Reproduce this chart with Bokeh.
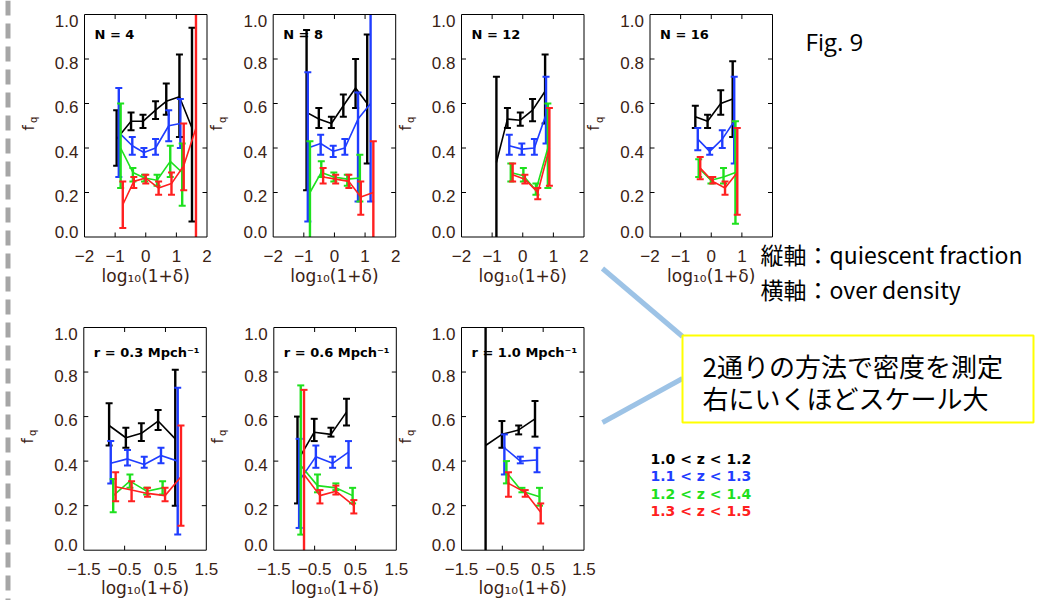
import numpy as np
from bokeh.plotting import figure
from bokeh.models import Range1d
from bokeh.embed import file_html
from bokeh.resources import INLINE
from bokeh.core.properties import value

# ------------------------------------------------------------------ texts / ticks
SERIES_LABELS = ["1.0 < z < 1.2", "1.1 < z < 1.3", "1.2 < z < 1.4", "1.3 < z < 1.5"]
TOP_TITLES = ["N = 4", "N = 8", "N = 12", "N = 16"]
BOTTOM_TITLES = ["r = 0.3 Mpch⁻¹", "r = 0.6 Mpch⁻¹", "r = 1.0 Mpch⁻¹"]
TOP_XTICKS = [-2, -1, 0, 1, 2]
TOP_XTICK_LABELS = ["−2", "−1", "0", "1", "2"]
BOTTOM_XTICKS = [-1.5, -0.5, 0.5, 1.5]
BOTTOM_XTICK_LABELS = ["−1.5", "−0.5", "0.5", "1.5"]
YTICKS = [0.0, 0.2, 0.4, 0.6, 0.8, 1.0]
YTICK_LABELS = ["0.0", "0.2", "0.4", "0.6", "0.8", "1.0"]
X_TITLE = "log₁₀(1+δ)"
Y_TITLE_MAIN = "f"
Y_TITLE_SUB = "q"
FIG_TITLE = "Fig. 9"
NOTE_LINES = ["縦軸：quiescent fraction", "横軸：over density"]
BOX_LINES = ["2通りの方法で密度を測定", "右にいくほどスケール大"]

# ------------------------------------------------------------------ data (x = log10(1+delta), f = f_q, lo/hi = error bar ends)
# N = 4
n4_k_x = [-0.95, -0.48, -0.09, 0.32, 0.67, 1.10, 1.51]
n4_k_f = [0.44, 0.52, 0.52, 0.57, 0.61, 0.63, 0.49]
n4_k_lo = [0.32, 0.48, 0.49, 0.53, 0.55, 0.45, 0.07]
n4_k_hi = [0.57, 0.56, 0.55, 0.61, 0.69, 0.82, 0.94]
n4_b_x = [-0.88, -0.44, -0.06, 0.32, 0.75, 1.13]
n4_b_f = [0.47, 0.41, 0.38, 0.40, 0.50, 0.51]
n4_b_lo = [0.27, 0.37, 0.36, 0.37, 0.43, 0.40]
n4_b_hi = [0.67, 0.45, 0.40, 0.44, 0.57, 0.62]
n4_g_x = [-0.82, -0.42, -0.04, 0.37, 0.80, 1.19]
n4_g_f = [0.40, 0.29, 0.265, 0.255, 0.34, 0.29]
n4_g_lo = [0.22, 0.25, 0.25, 0.23, 0.27, 0.14]
n4_g_hi = [0.60, 0.31, 0.28, 0.28, 0.41, 0.42]
n4_r_x = [-0.75, -0.39, 0.00, 0.42, 0.84, 1.24, 1.64]
n4_r_f = [0.145, 0.25, 0.265, 0.22, 0.24, 0.32, 0.49]
n4_r_lo = [0.04, 0.22, 0.24, 0.19, 0.19, 0.21, -0.10]
n4_r_hi = [0.25, 0.27, 0.28, 0.25, 0.29, 0.51, 1.10]
# N = 8
n8_k_x = [-0.91, -0.51, -0.10, 0.29, 0.69, 1.07]
n8_k_f = [0.56, 0.53, 0.51, 0.59, 0.67, 0.60]
n8_k_lo = [0.21, 0.49, 0.49, 0.54, 0.58, 0.33]
n8_k_hi = [0.93, 0.58, 0.54, 0.64, 0.80, 0.91]
n8_b_x = [-0.87, -0.45, -0.04, 0.34, 0.77, 1.18]
n8_b_f = [0.40, 0.42, 0.385, 0.40, 0.53, 0.60]
n8_b_lo = [0.07, 0.37, 0.36, 0.37, 0.16, 0.16]
n8_b_hi = [0.74, 0.46, 0.41, 0.44, 0.65, 1.10]
n8_g_x = [-0.80, -0.43, -0.02, 0.42, 0.83]
n8_g_f = [0.20, 0.29, 0.27, 0.26, 0.265]
n8_g_lo = [-0.10, 0.27, 0.25, 0.23, 0.16]
n8_g_hi = [0.43, 0.34, 0.29, 0.28, 0.37]
n8_r_x = [-0.37, 0.04, 0.47, 0.86, 1.27]
n8_r_f = [0.27, 0.26, 0.25, 0.18, 0.20]
n8_r_lo = [0.24, 0.24, 0.22, 0.10, -0.10]
n8_r_hi = [0.31, 0.28, 0.28, 0.25, 0.43]
# N = 12
n12_k_x = [-0.86, -0.50, -0.08, 0.32, 0.73]
n12_k_f = [0.335, 0.53, 0.525, 0.57, 0.655]
n12_k_lo = [-0.10, 0.49, 0.50, 0.52, 0.51]
n12_k_hi = [0.72, 0.58, 0.56, 0.62, 0.82]
n12_b_x = [-0.44, -0.03, 0.38, 0.76]
n12_b_f = [0.41, 0.395, 0.40, 0.55]
n12_b_lo = [0.37, 0.37, 0.37, 0.42]
n12_b_hi = [0.46, 0.42, 0.44, 0.72]
n12_g_x = [-0.39, 0.02, 0.43, 0.82]
n12_g_f = [0.29, 0.275, 0.21, 0.40]
n12_g_lo = [0.25, 0.25, 0.19, 0.22]
n12_g_hi = [0.33, 0.31, 0.24, 0.60]
n12_r_x = [-0.33, 0.07, 0.49, 0.87]
n12_r_f = [0.28, 0.26, 0.20, 0.40]
n12_r_lo = [0.25, 0.24, 0.17, 0.23]
n12_r_hi = [0.33, 0.28, 0.22, 0.58]
# N = 16
n16_k_x = [-0.52, -0.12, 0.31, 0.70]
n16_k_f = [0.54, 0.52, 0.60, 0.62]
n16_k_lo = [0.49, 0.49, 0.55, 0.45]
n16_k_hi = [0.59, 0.55, 0.66, 0.79]
n16_b_x = [-0.44, -0.05, 0.36, 0.75]
n16_b_f = [0.44, 0.385, 0.44, 0.52]
n16_b_lo = [0.39, 0.37, 0.40, 0.33]
n16_b_hi = [0.49, 0.40, 0.48, 0.72]
n16_g_x = [-0.41, -0.01, 0.40, 0.79]
n16_g_f = [0.31, 0.255, 0.27, 0.29]
n16_g_lo = [0.27, 0.24, 0.24, 0.06]
n16_g_hi = [0.35, 0.27, 0.31, 0.52]
n16_r_x = [-0.36, 0.05, 0.45, 0.85]
n16_r_f = [0.31, 0.25, 0.22, 0.29]
n16_r_lo = [0.26, 0.24, 0.19, 0.10]
n16_r_hi = [0.36, 0.27, 0.25, 0.49]
# r = 0.3 Mpc/h
r03_k_x = [-0.88, -0.47, -0.09, 0.32, 0.74]
r03_k_f = [0.56, 0.505, 0.525, 0.58, 0.50]
r03_k_lo = [0.47, 0.46, 0.49, 0.54, 0.20]
r03_k_hi = [0.66, 0.55, 0.57, 0.63, 0.81]
r03_b_x = [-0.84, -0.43, -0.02, 0.39, 0.80]
r03_b_f = [0.39, 0.41, 0.385, 0.425, 0.40]
r03_b_lo = [0.30, 0.38, 0.37, 0.39, 0.07]
r03_b_hi = [0.49, 0.45, 0.42, 0.46, 0.73]
r03_g_x = [-0.78, -0.37, 0.04, 0.43]
r03_g_f = [0.245, 0.31, 0.265, 0.28]
r03_g_lo = [0.17, 0.28, 0.25, 0.25]
r03_g_hi = [0.32, 0.34, 0.28, 0.31]
r03_r_x = [-0.72, -0.33, 0.06, 0.49, 0.88]
r03_r_f = [0.285, 0.27, 0.255, 0.245, 0.33]
r03_r_lo = [0.22, 0.22, 0.24, 0.22, 0.11]
r03_r_hi = [0.35, 0.31, 0.28, 0.28, 0.56]
# r = 0.6 Mpc/h
r06_k_x = [-0.92, -0.51, -0.10, 0.28]
r06_k_f = [0.40, 0.53, 0.52, 0.62]
r06_k_lo = [0.21, 0.49, 0.51, 0.56]
r06_k_hi = [0.60, 0.59, 0.55, 0.68]
r06_b_x = [-0.88, -0.47, -0.06, 0.33]
r06_b_f = [0.31, 0.42, 0.39, 0.44]
r06_b_lo = [0.10, 0.37, 0.37, 0.37]
r06_b_hi = [0.50, 0.47, 0.42, 0.49]
r06_g_x = [-0.84, -0.43, 0.02, 0.43]
r06_g_f = [0.38, 0.29, 0.28, 0.245]
r06_g_lo = [0.07, 0.26, 0.27, 0.21]
r06_g_hi = [0.74, 0.34, 0.30, 0.28]
r06_r_x = [-0.76, -0.37, 0.02, 0.46]
r06_r_f = [0.34, 0.245, 0.265, 0.20]
r06_r_lo = [-0.10, 0.21, 0.25, 0.165]
r06_r_hi = [0.72, 0.27, 0.29, 0.225]
# r = 1.0 Mpc/h
r10_k_x = [-0.91, -0.51, -0.10, 0.30]
r10_k_f = [0.47, 0.52, 0.54, 0.59]
r10_k_lo = [-0.10, 0.46, 0.52, 0.51]
r10_k_hi = [1.10, 0.58, 0.56, 0.67]
r10_b_x = [-0.45, -0.06, 0.35]
r10_b_f = [0.46, 0.40, 0.405]
r10_b_lo = [0.34, 0.39, 0.35]
r10_b_hi = [0.52, 0.42, 0.46]
r10_g_x = [-0.40, -0.02, 0.41]
r10_g_f = [0.35, 0.265, 0.24]
r10_g_lo = [0.30, 0.26, 0.20]
r10_g_hi = [0.40, 0.28, 0.28]
r10_r_x = [-0.35, 0.06, 0.44]
r10_r_f = [0.30, 0.26, 0.17]
r10_r_lo = [0.24, 0.24, 0.12]
r10_r_hi = [0.35, 0.27, 0.21]

PANEL_SERIES = {
    "n4": [(n4_k_x, n4_k_f, n4_k_lo, n4_k_hi), (n4_b_x, n4_b_f, n4_b_lo, n4_b_hi),
           (n4_g_x, n4_g_f, n4_g_lo, n4_g_hi), (n4_r_x, n4_r_f, n4_r_lo, n4_r_hi)],
    "n8": [(n8_k_x, n8_k_f, n8_k_lo, n8_k_hi), (n8_b_x, n8_b_f, n8_b_lo, n8_b_hi),
           (n8_g_x, n8_g_f, n8_g_lo, n8_g_hi), (n8_r_x, n8_r_f, n8_r_lo, n8_r_hi)],
    "n12": [(n12_k_x, n12_k_f, n12_k_lo, n12_k_hi), (n12_b_x, n12_b_f, n12_b_lo, n12_b_hi),
            (n12_g_x, n12_g_f, n12_g_lo, n12_g_hi), (n12_r_x, n12_r_f, n12_r_lo, n12_r_hi)],
    "n16": [(n16_k_x, n16_k_f, n16_k_lo, n16_k_hi), (n16_b_x, n16_b_f, n16_b_lo, n16_b_hi),
            (n16_g_x, n16_g_f, n16_g_lo, n16_g_hi), (n16_r_x, n16_r_f, n16_r_lo, n16_r_hi)],
    "r03": [(r03_k_x, r03_k_f, r03_k_lo, r03_k_hi), (r03_b_x, r03_b_f, r03_b_lo, r03_b_hi),
            (r03_g_x, r03_g_f, r03_g_lo, r03_g_hi), (r03_r_x, r03_r_f, r03_r_lo, r03_r_hi)],
    "r06": [(r06_k_x, r06_k_f, r06_k_lo, r06_k_hi), (r06_b_x, r06_b_f, r06_b_lo, r06_b_hi),
            (r06_g_x, r06_g_f, r06_g_lo, r06_g_hi), (r06_r_x, r06_r_f, r06_r_lo, r06_r_hi)],
    "r10": [(r10_k_x, r10_k_f, r10_k_lo, r10_k_hi), (r10_b_x, r10_b_f, r10_b_lo, r10_b_hi),
            (r10_g_x, r10_g_f, r10_g_lo, r10_g_hi), (r10_r_x, r10_r_f, r10_r_lo, r10_r_hi)],
}

# ------------------------------------------------------------------ styling / layout
SERIES_COLORS = ["#000000", "#1f3dff", "#1ee01e", "#ff2020"]
AX_COL = "#3a2214"
W, H = 1044, 600          # canvas size (Bokeh's page template has no body margin)
X0, Y0 = 0, 0             # canvas origin in page pixels
PW = 122.5                # panel frame width (px)
TOP_T, TOP_B = 14.0, 236.5
BOT_T, BOT_B = 327.0, 549.7
YLABEL_NUDGE_PX = [-5.0, 3.5, 3.5, 3.5, 3.5, 6.5]   # label centre below its tick (px)

p = figure(width=W, height=H, output_backend="svg", toolbar_location=None,
           x_range=Range1d(X0, X0 + W), y_range=Range1d(Y0 + H, Y0),
           x_axis_location=None, y_axis_location=None, title=None,
           min_border=0, min_border_left=0, min_border_right=0,
           min_border_top=0, min_border_bottom=0)
p.outline_line_color = None
p.background_fill_color = "white"
p.border_fill_color = "white"
for g in p.grid:
    g.visible = False

TICK_FONT = value("Liberation Sans")
LAB_FONT = value("DejaVu Sans")


def add_panel(name, L, T, B, xlo, xhi, xticks, xlabels, title, title_dy,
              xtitle_dy, hide_xlabels=()):
    kx = (xhi - xlo) / PW
    ky = 1.0 / (B - T)
    p.extra_x_ranges[name] = Range1d(xlo - (L - X0) * kx, xlo + (X0 + W - L) * kx)
    p.extra_y_ranges[name] = Range1d(-(Y0 + H - B) * ky, 1.0 + (T - Y0) * ky)
    kw = dict(x_range_name=name, y_range_name=name)

    for (xs, fs, lo, hi), col in zip(PANEL_SERIES[name], SERIES_COLORS):
        p.line(xs, fs, line_color=col, line_width=1.6, **kw)
        p.segment(x0=xs, y0=np.clip(lo, 0, 1), x1=xs, y1=np.clip(hi, 0, 1),
                  line_color=col, line_width=2.4, **kw)
        cx, cy = [], []
        for x, l, h in zip(xs, lo, hi):
            if h <= 1.0:
                cx.append(x); cy.append(h)
            if l >= 0.0:
                cx.append(x); cy.append(l)
        p.scatter(cx, cy, marker="dash", size=7, line_color=col, line_width=2, **kw)

    # frame
    p.quad(left=[xlo], right=[xhi], bottom=[0], top=[1], fill_color=None,
           line_color="black", line_width=1, **kw)
    tl = 4.5
    xt = [t for t in xticks if xlo < t < xhi]
    p.segment(x0=xt, y0=[0] * len(xt), x1=xt, y1=[tl * ky] * len(xt), line_color="black", **kw)
    p.segment(x0=xt, y0=[1] * len(xt), x1=xt, y1=[1 - tl * ky] * len(xt), line_color="black", **kw)
    yt = [t for t in YTICKS if 0 < t < 1]
    p.segment(x0=[xlo] * len(yt), y0=yt, x1=[xlo + tl * kx] * len(yt), y1=yt, line_color="black", **kw)
    p.segment(x0=[xhi] * len(yt), y0=yt, x1=[xhi - tl * kx] * len(yt), y1=yt, line_color="black", **kw)

    # tick labels
    xl = [(t, s) for t, s in zip(xticks, xlabels) if t not in hide_xlabels]
    p.text(x=[t for t, _ in xl], y=[-19 * ky] * len(xl), text=[s for _, s in xl],
           text_align="center", text_baseline="middle", text_font=TICK_FONT,
           text_font_size="17px", text_color=AX_COL, **kw)
    p.text(x=[xlo - 6 * kx] * len(YTICKS),
           y=[v - d * ky for v, d in zip(YTICKS, YLABEL_NUDGE_PX)], text=YTICK_LABELS,
           text_align="right", text_baseline="middle", text_font=TICK_FONT,
           text_font_size="17px", text_color=AX_COL, **kw)

    # axis titles
    p.text(x=[(xlo + xhi) / 2], y=[-xtitle_dy * ky], text=[X_TITLE], text_align="center",
           text_baseline="middle", text_font=LAB_FONT, text_font_size="17px",
           text_color=AX_COL, **kw)
    p.text(x=[xlo - 56 * kx], y=[0.5 - 2 * ky], text=[Y_TITLE_MAIN], angle=np.pi / 2,
           text_align="center", text_baseline="middle", text_font=LAB_FONT,
           text_font_size="15px", text_color=AX_COL, **kw)
    p.text(x=[xlo - 51 * kx], y=[0.5 + 6 * ky], text=[Y_TITLE_SUB], angle=np.pi / 2,
           text_align="center", text_baseline="middle", text_font=LAB_FONT,
           text_font_size="10px", text_color=AX_COL, **kw)

    # panel title
    p.text(x=[xlo + 10 * kx], y=[1 - title_dy * ky], text=[title], text_align="left",
           text_baseline="middle", text_font=LAB_FONT, text_font_size="13px",
           text_font_style="bold", text_color="black", **kw)


top_lefts = [84.0, 272.7, 461.0, 649.5]
for i, (name, L) in enumerate(zip(["n4", "n8", "n12", "n16"], top_lefts)):
    add_panel(name, L, TOP_T, TOP_B, -2.0, 2.0, TOP_XTICKS, TOP_XTICK_LABELS,
              TOP_TITLES[i], 20, 39, hide_xlabels=(2,) if name == "n16" else ())

bot_lefts = [83.3, 273.3, 461.0]
for i, (name, L) in enumerate(zip(["r03", "r06", "r10"], bot_lefts)):
    add_panel(name, L, BOT_T, BOT_B, -1.5, 1.5, BOTTOM_XTICKS, BOTTOM_XTICK_LABELS,
              BOTTOM_TITLES[i], 25, 38)

# ------------------------------------------------------------------ slide decorations (page pixel coords)
p.line(x=[7.5, 7.5], y=[0, H], line_color="#a6a6a6", line_width=5, line_dash="15 8")
p.line(x=[602, 682], y=[268, 336], line_color="#9dc3e6", line_width=5)
p.line(x=[602, 682], y=[422, 378], line_color="#9dc3e6", line_width=5)
p.quad(left=[682], right=[1033], top=[335], bottom=[422], fill_color="white",
       line_color="#ffff00", line_width=2)

p.text(x=[702, 702], y=[365, 397], text=BOX_LINES, text_align="left", text_baseline="middle",
       text_font=value("Noto Sans CJK JP"), text_font_size="26px", text_color="black")
p.text(x=[760, 760], y=[253, 288], text=NOTE_LINES, text_align="left", text_baseline="middle",
       text_font=value("Noto Sans CJK JP"), text_font_size="23px", text_color="black")
p.text(x=[805], y=[41], text=[FIG_TITLE], text_align="left", text_baseline="middle",
       text_font=value("Open Sans"), text_font_size="24px", text_color="black")
p.text(x=[650] * 4, y=[458.3, 475.7, 493.3, 510.0], text=SERIES_LABELS, text_align="left",
       text_baseline="middle", text_font=LAB_FONT, text_font_size="14px",
       text_font_style="bold", text_color=SERIES_COLORS)

open("out.html", "w").write(file_html(p, INLINE))
